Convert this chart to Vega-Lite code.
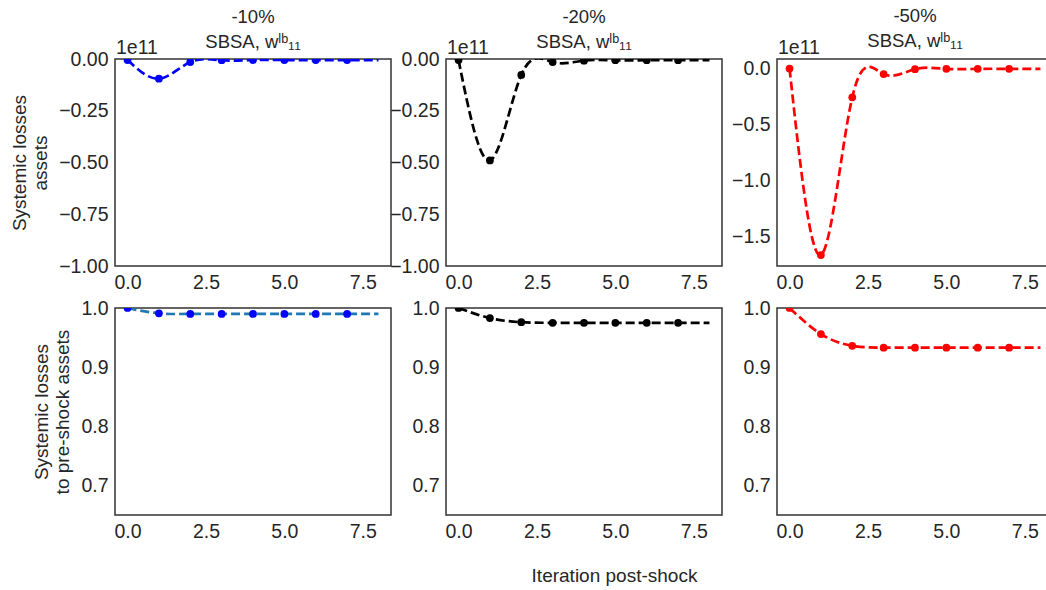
{
  "$schema": "https://vega.github.io/schema/vega-lite/v6.json",
  "background": "white",
  "padding": {"left": 9, "top": 5, "right": 0, "bottom": 0},
  "datasets": {
    "curves": [
      {"panel": "A1", "iter": 0, "value": -5e8},
      {"panel": "A1", "iter": 1, "value": -9.5e9},
      {"panel": "A1", "iter": 2, "value": -1.5e9},
      {"panel": "A1", "iter": 3, "value": -6e8},
      {"panel": "A1", "iter": 4, "value": -5e8},
      {"panel": "A1", "iter": 5, "value": -5e8},
      {"panel": "A1", "iter": 6, "value": -5e8},
      {"panel": "A1", "iter": 7, "value": -5e8},
      {"panel": "A1", "iter": 8, "value": -5e8},
      {"panel": "A2", "iter": 0, "value": -5e8},
      {"panel": "A2", "iter": 1, "value": -4.9e10},
      {"panel": "A2", "iter": 2, "value": -7.7e9},
      {"panel": "A2", "iter": 3, "value": -1.5e9},
      {"panel": "A2", "iter": 4, "value": -8e8},
      {"panel": "A2", "iter": 5, "value": -6e8},
      {"panel": "A2", "iter": 6, "value": -6e8},
      {"panel": "A2", "iter": 7, "value": -6e8},
      {"panel": "A2", "iter": 8, "value": -6e8},
      {"panel": "A3", "iter": 0, "value": 0},
      {"panel": "A3", "iter": 1, "value": -1.666e11},
      {"panel": "A3", "iter": 2, "value": -2.57e10},
      {"panel": "A3", "iter": 3, "value": -5e9},
      {"panel": "A3", "iter": 4, "value": -6e8},
      {"panel": "A3", "iter": 5, "value": -3e8},
      {"panel": "A3", "iter": 6, "value": -3e8},
      {"panel": "A3", "iter": 7, "value": -3e8},
      {"panel": "A3", "iter": 8, "value": -3e8},
      {"panel": "B1", "iter": 0, "value": 1.0},
      {"panel": "B1", "iter": 1, "value": 0.991},
      {"panel": "B1", "iter": 2, "value": 0.990},
      {"panel": "B1", "iter": 3, "value": 0.990},
      {"panel": "B1", "iter": 4, "value": 0.990},
      {"panel": "B1", "iter": 5, "value": 0.990},
      {"panel": "B1", "iter": 6, "value": 0.990},
      {"panel": "B1", "iter": 7, "value": 0.990},
      {"panel": "B1", "iter": 8, "value": 0.990},
      {"panel": "B2", "iter": 0, "value": 1.0},
      {"panel": "B2", "iter": 1, "value": 0.983},
      {"panel": "B2", "iter": 2, "value": 0.976},
      {"panel": "B2", "iter": 3, "value": 0.975},
      {"panel": "B2", "iter": 4, "value": 0.975},
      {"panel": "B2", "iter": 5, "value": 0.975},
      {"panel": "B2", "iter": 6, "value": 0.975},
      {"panel": "B2", "iter": 7, "value": 0.975},
      {"panel": "B2", "iter": 8, "value": 0.975},
      {"panel": "B3", "iter": 0, "value": 1.0},
      {"panel": "B3", "iter": 1, "value": 0.956},
      {"panel": "B3", "iter": 2, "value": 0.936},
      {"panel": "B3", "iter": 3, "value": 0.933},
      {"panel": "B3", "iter": 4, "value": 0.933},
      {"panel": "B3", "iter": 5, "value": 0.933},
      {"panel": "B3", "iter": 6, "value": 0.933},
      {"panel": "B3", "iter": 7, "value": 0.933},
      {"panel": "B3", "iter": 8, "value": 0.933}
    ]
  },
  "columns": 3,
  "spacing": {"row": 42, "column": 55},
  "bounds": "flush",
  "concat": [
    {
      "width": 276, "height": 207,
      "title": {"text": ["-10%", "SBSA, wˡᵇ₁₁"], "offset": -13},
      "data": {"name": "curves"},
      "transform": [{"filter": "datum.panel === 'A1'"}],
      "encoding": {
        "x": {"field": "iter", "type": "quantitative", "scale": {"domain": [-0.4, 8.4], "nice": false, "zero": false}, "axis": {"values": [0, 2.5, 5, 7.5], "format": ".1f", "title": null}},
        "y": {"field": "value", "type": "quantitative", "scale": {"domain": [-1e11, 0], "nice": false, "zero": false}, "axis": {"values": [-1e11, -7.5e10, -5e10, -2.5e10, 0], "labelExpr": "format(datum.value / 1e11, '.2f')", "title": ["Systemic losses", "assets"]}}
      },
      "layer": [
        {"mark": {"type": "line", "interpolate": "natural", "color": "#0000ff", "strokeDash": [9, 4], "strokeWidth": 2.7, "clip": true}},
        {"transform": [{"filter": "datum.iter <= 7"}], "mark": {"type": "circle", "size": 60, "color": "#0000ff", "opacity": 1, "clip": true}},
        {"transform": [{"filter": "datum.iter === 0"}], "mark": {"type": "text", "text": "1e11", "align": "left", "baseline": "bottom", "dx": 1, "dy": -1, "fontSize": 19.5, "color": "#262626"}, "encoding": {"x": {"datum": -0.4}, "y": {"datum": 0}}}
      ]
    },
    {
      "width": 276, "height": 207,
      "title": {"text": ["-20%", "SBSA, wˡᵇ₁₁"], "offset": -13},
      "data": {"name": "curves"},
      "transform": [{"filter": "datum.panel === 'A2'"}],
      "encoding": {
        "x": {"field": "iter", "type": "quantitative", "scale": {"domain": [-0.4, 8.4], "nice": false, "zero": false}, "axis": {"values": [0, 2.5, 5, 7.5], "format": ".1f", "title": null}},
        "y": {"field": "value", "type": "quantitative", "scale": {"domain": [-1e11, 0], "nice": false, "zero": false}, "axis": {"values": [-1e11, -7.5e10, -5e10, -2.5e10, 0], "labelExpr": "format(datum.value / 1e11, '.2f')", "title": null}}
      },
      "layer": [
        {"mark": {"type": "line", "interpolate": "natural", "color": "#000000", "strokeDash": [9, 4], "strokeWidth": 2.7, "clip": true}},
        {"transform": [{"filter": "datum.iter <= 7"}], "mark": {"type": "circle", "size": 60, "color": "#000000", "opacity": 1, "clip": true}},
        {"transform": [{"filter": "datum.iter === 0"}], "mark": {"type": "text", "text": "1e11", "align": "left", "baseline": "bottom", "dx": 1, "dy": -1, "fontSize": 19.5, "color": "#262626"}, "encoding": {"x": {"datum": -0.4}, "y": {"datum": 0}}}
      ]
    },
    {
      "width": 276, "height": 207,
      "title": {"text": ["-50%", "SBSA, wˡᵇ₁₁"], "offset": -12},
      "data": {"name": "curves"},
      "transform": [{"filter": "datum.panel === 'A3'"}],
      "encoding": {
        "x": {"field": "iter", "type": "quantitative", "scale": {"domain": [-0.4, 8.4], "nice": false, "zero": false}, "axis": {"values": [0, 2.5, 5, 7.5], "format": ".1f", "title": null}},
        "y": {"field": "value", "type": "quantitative", "scale": {"domain": [-1.764e11, 0.085e11], "nice": false, "zero": false}, "axis": {"values": [-1.5e11, -1e11, -5e10, 0], "labelExpr": "format(datum.value / 1e11, '.1f')", "title": null}}
      },
      "layer": [
        {"mark": {"type": "line", "interpolate": "natural", "color": "#ff0000", "strokeDash": [9, 4], "strokeWidth": 2.7, "clip": true}},
        {"transform": [{"filter": "datum.iter <= 7"}], "mark": {"type": "circle", "size": 60, "color": "#ff0000", "opacity": 1, "clip": true}},
        {"transform": [{"filter": "datum.iter === 0"}], "mark": {"type": "text", "text": "1e11", "align": "left", "baseline": "bottom", "dx": 1, "dy": -1, "fontSize": 19.5, "color": "#262626"}, "encoding": {"x": {"datum": -0.4}, "y": {"datum": 0.085e11}}}
      ]
    },
    {
      "width": 276, "height": 207,
      "data": {"name": "curves"},
      "transform": [{"filter": "datum.panel === 'B1'"}],
      "encoding": {
        "x": {"field": "iter", "type": "quantitative", "scale": {"domain": [-0.4, 8.4], "nice": false, "zero": false}, "axis": {"values": [0, 2.5, 5, 7.5], "format": ".1f", "title": null}},
        "y": {"field": "value", "type": "quantitative", "scale": {"domain": [0.65, 1.0], "nice": false, "zero": false}, "axis": {"values": [0.7, 0.8, 0.9, 1.0], "format": ".1f", "title": ["Systemic losses", "to pre-shock assets"]}}
      },
      "layer": [
        {"mark": {"type": "line", "interpolate": "natural", "color": "#1f77b4", "strokeDash": [9, 4], "strokeWidth": 2.7, "clip": true}},
        {"transform": [{"filter": "datum.iter <= 7"}], "mark": {"type": "circle", "size": 60, "color": "#0000ff", "opacity": 1, "clip": true}}
      ]
    },
    {
      "width": 276, "height": 207,
      "data": {"name": "curves"},
      "transform": [{"filter": "datum.panel === 'B2'"}],
      "encoding": {
        "x": {"field": "iter", "type": "quantitative", "scale": {"domain": [-0.4, 8.4], "nice": false, "zero": false}, "axis": {"values": [0, 2.5, 5, 7.5], "format": ".1f", "title": "Iteration post-shock", "titleX": 168, "titleY": 60, "titleBaseline": "middle"}},
        "y": {"field": "value", "type": "quantitative", "scale": {"domain": [0.65, 1.0], "nice": false, "zero": false}, "axis": {"values": [0.7, 0.8, 0.9, 1.0], "format": ".1f", "title": null}}
      },
      "layer": [
        {"mark": {"type": "line", "interpolate": "natural", "color": "#000000", "strokeDash": [9, 4], "strokeWidth": 2.7, "clip": true}},
        {"transform": [{"filter": "datum.iter <= 7"}], "mark": {"type": "circle", "size": 60, "color": "#000000", "opacity": 1, "clip": true}}
      ]
    },
    {
      "width": 276, "height": 207,
      "data": {"name": "curves"},
      "transform": [{"filter": "datum.panel === 'B3'"}],
      "encoding": {
        "x": {"field": "iter", "type": "quantitative", "scale": {"domain": [-0.4, 8.4], "nice": false, "zero": false}, "axis": {"values": [0, 2.5, 5, 7.5], "format": ".1f", "title": null}},
        "y": {"field": "value", "type": "quantitative", "scale": {"domain": [0.65, 1.0], "nice": false, "zero": false}, "axis": {"values": [0.7, 0.8, 0.9, 1.0], "format": ".1f", "title": null}}
      },
      "layer": [
        {"mark": {"type": "line", "interpolate": "natural", "color": "#ff0000", "strokeDash": [9, 4], "strokeWidth": 2.7, "clip": true}},
        {"transform": [{"filter": "datum.iter <= 7"}], "mark": {"type": "circle", "size": 60, "color": "#ff0000", "opacity": 1, "clip": true}}
      ]
    }
  ],
  "config": {
    "font": "Liberation Sans",
    "view": {"stroke": "#333333", "strokeWidth": 1.5},
    "axis": {
      "grid": false, "ticks": false, "domain": false,
      "labelFontSize": 19.5, "labelColor": "#262626", "labelPadding": 7,
      "labelFlush": false, "labelOverlap": false,
      "titleFontSize": 19, "titleColor": "#262626", "titleFontWeight": "normal", "titlePadding": 8
    },
    "title": {"fontSize": 18.5, "fontWeight": "normal", "color": "#262626", "lineHeight": 25}
  }
}
